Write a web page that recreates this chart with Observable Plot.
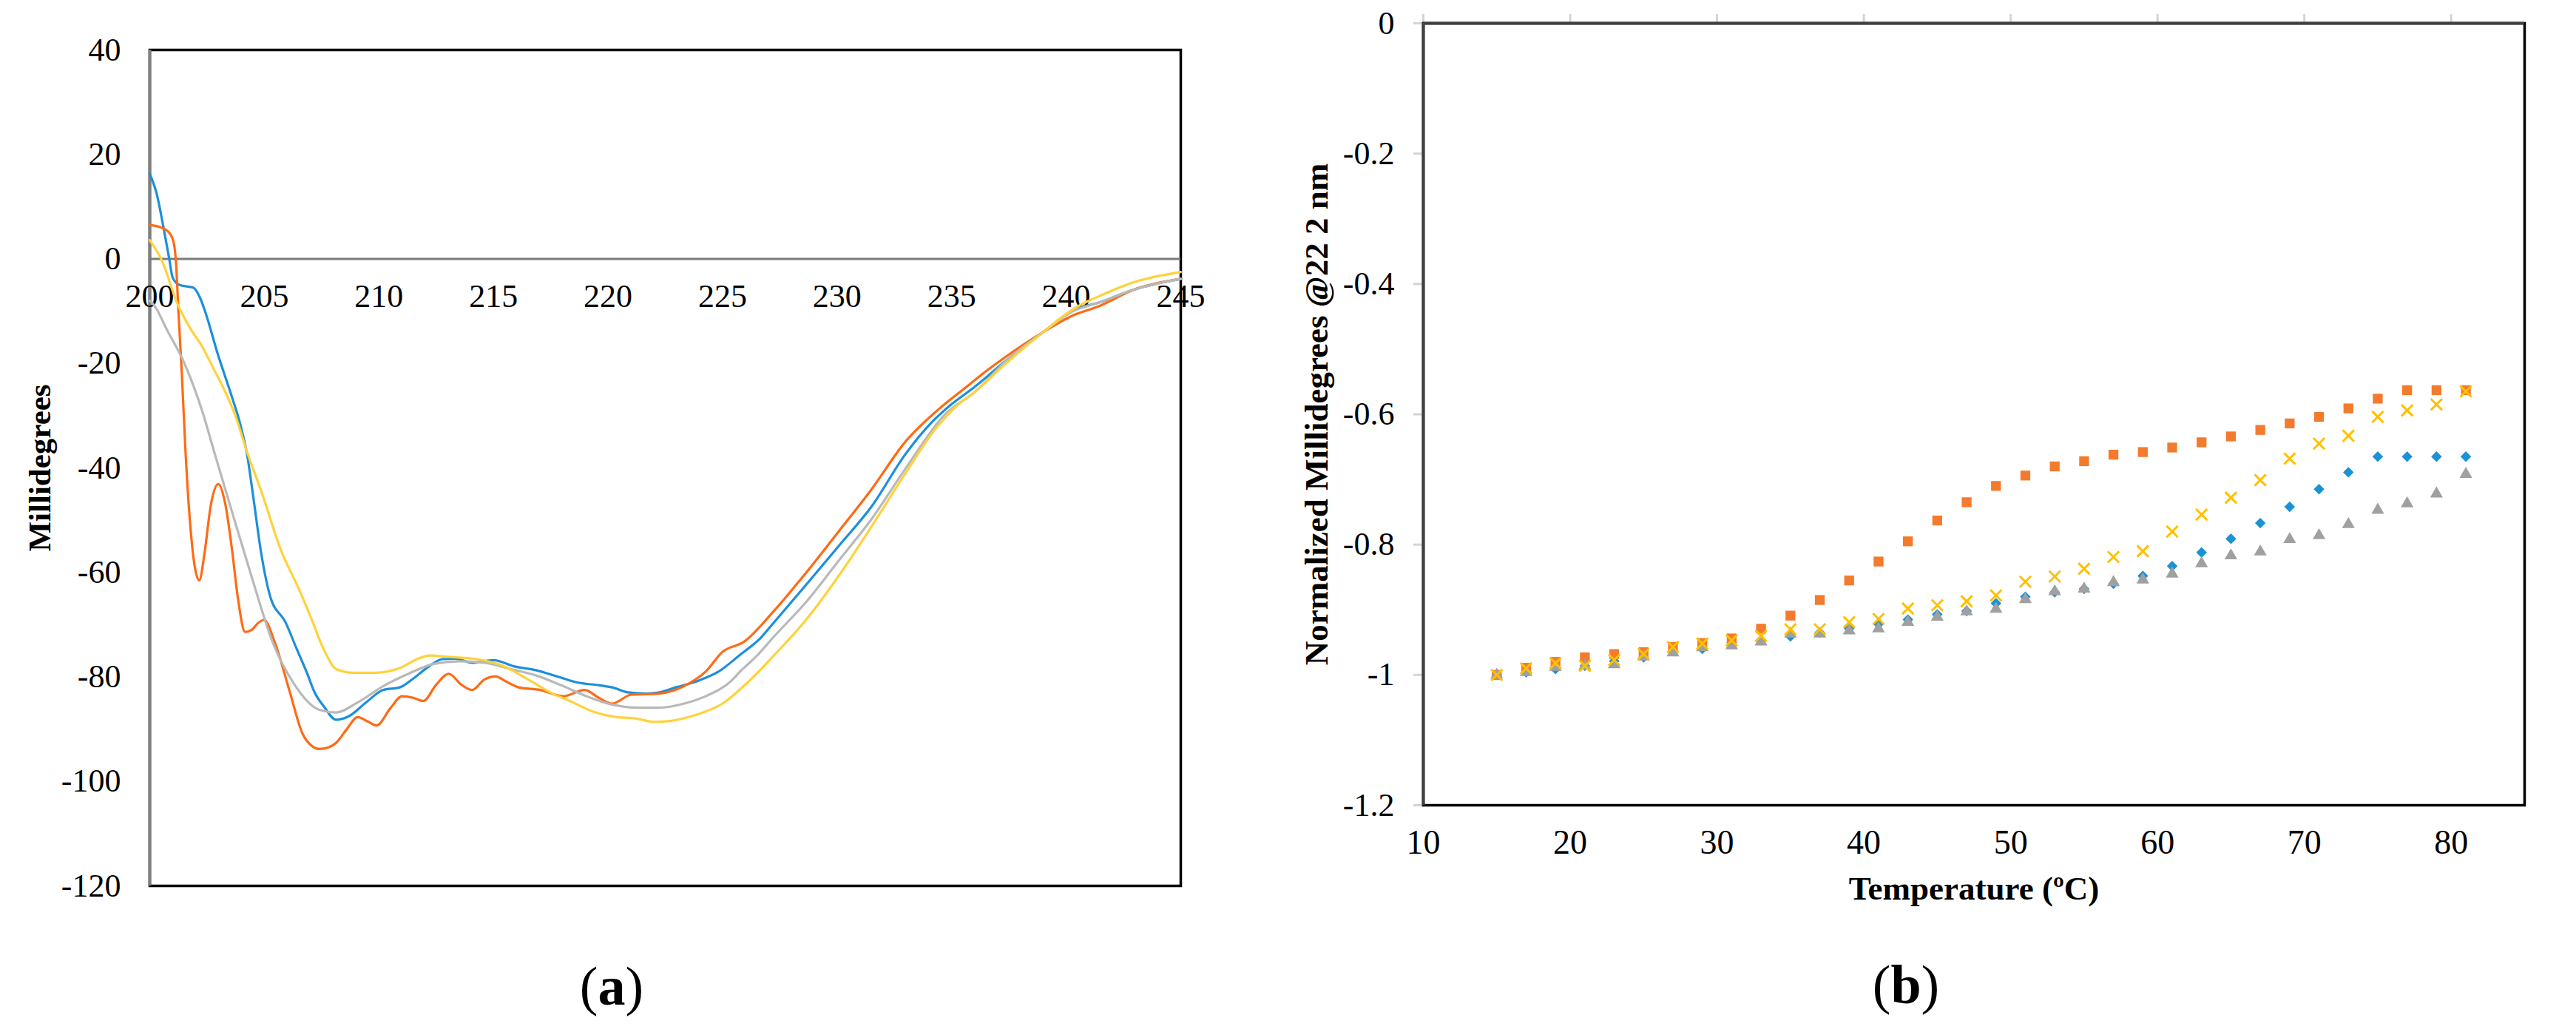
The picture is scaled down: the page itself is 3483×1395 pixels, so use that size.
<!DOCTYPE html>
<html>
<head>
<meta charset="utf-8">
<script src="https://cdn.jsdelivr.net/npm/d3@7"></script>
<script src="https://cdn.jsdelivr.net/npm/@observablehq/plot@0.6"></script>
<style>
  html, body { margin: 0; padding: 0; background: #fff; }
  body { width: 3483px; height: 1395px; position: relative; overflow: hidden; font-family: "Liberation Serif", serif; }
  #a { position: absolute; left: 0; top: 0; }
  #b { position: absolute; left: 1700px; top: 0; }
  svg text { font-family: "Liberation Serif", serif !important; }
  .cap { position: absolute; font-size: 74px; line-height: 1; transform: translate(-50%, -50%); color: #000; white-space: nowrap; font-family: "Liberation Serif", serif; }
</style>
</head>
<body>
<div id="a"></div>
<div id="b"></div>
<div class="cap" style="left:827px; top:1333px;">(<b>a</b>)</div>
<div class="cap" style="left:2577px; top:1331px;">(<b>b</b>)</div>
<script>
// ---------- Panel (a): CD spectra ----------
const xTicksA = [200, 205, 210, 215, 220, 225, 230, 235, 240, 245];
const yTicksA = [40, 20, 0, -20, -40, -60, -80, -100, -120];

const blueWl = [200.0, 200.3, 200.6, 200.85, 201.0, 201.3, 201.9, 202.2, 202.45, 202.96, 203.6, 203.94, 204.25, 204.5, 204.87, 205.27, 205.92, 206.4, 206.84, 207.2, 207.59, 208.14, 208.7, 209.44, 210.18, 210.92, 211.48, 212.03, 212.77, 213.33, 214.07, 215.0, 215.92, 216.85, 217.77, 218.7, 219.63, 220.18, 220.93, 221.67, 222.22, 222.96, 223.89, 224.82, 225.76, 226.67, 227.2, 228.64, 230.08, 231.52, 232.96, 234.12, 235.0, 236.0, 237.5, 239.0, 240.3, 241.4, 243.0, 245.0];
const blueMdeg = [16.3, 12.5, 6, 0, -3.6, -5.0, -5.5, -7.5, -10.5, -18.1, -26.6, -31.5, -37.5, -45, -56.5, -64.8, -69.5, -74.5, -79, -83, -85.6, -88.2, -87.5, -84.9, -82.5, -82.0, -80.4, -78.5, -76.6, -76.5, -77.3, -76.8, -78.0, -78.7, -79.9, -81.1, -81.6, -82.0, -83.0, -83.2, -83.0, -82.0, -80.8, -79.0, -75.8, -72.5, -69.8, -62.4, -54.9, -47.3, -37.5, -31.3, -27.8, -24.5, -19, -14, -9.8, -8.4, -5.8, -3.8];

const orangeWl = [200.0, 200.5, 200.85, 201.05, 201.15, 201.25, 201.4, 201.55, 201.75, 201.95, 202.16, 202.4, 202.65, 202.99, 203.3, 203.6, 203.85, 204.16, 204.45, 204.75, 204.99, 205.45, 206.1, 206.66, 207.1, 207.4, 207.8, 208.14, 208.6, 209.07, 209.5, 209.9, 210.5, 211.01, 211.5, 211.94, 212.5, 213.05, 213.6, 214.07, 214.6, 215.09, 215.6, 216.1, 217.03, 218.05, 218.98, 219.6, 220.18, 221.02, 222.22, 223.52, 224.26, 225.0, 225.93, 227.2, 228.64, 230.08, 231.52, 232.96, 234.4, 235.5, 236.5, 237.5, 239.0, 240.3, 241.4, 243.0, 245.0];
const orangeMdeg = [6.5, 6.0, 5.0, 3.0, -1, -10, -22, -36, -50, -58.5, -61.5, -56, -47.5, -43.1, -47, -56, -65, -71.4, -71, -69.6, -69.1, -73.3, -82.7, -90.8, -93.3, -93.8, -93.5, -92.6, -90, -87.7, -88.5, -89.3, -86, -83.7, -84, -84.6, -81.5, -79.4, -81.5, -82.5, -80.5, -79.9, -81, -82.0, -82.5, -83.7, -82.5, -84, -85.1, -83.4, -83.2, -81.3, -79.0, -75.2, -73.3, -67.6, -60.1, -52.1, -44.0, -35.1, -28.9, -25, -21.5, -18.3, -14, -10.8, -9.1, -5.8, -3.8];

const grayWl = [200.0, 200.18, 200.8, 201.41, 202.28, 202.85, 203.7, 204.43, 205.36, 206.29, 207.4, 208.14, 209.07, 210.18, 211.29, 212.4, 213.51, 214.63, 215.74, 216.85, 217.96, 219.07, 220.18, 221.3, 222.22, 223.33, 224.26, 225.37, 225.76, 226.49, 227.2, 228.64, 230.08, 231.52, 232.96, 234.7, 236.0, 237.5, 239.0, 240.3, 241.4, 243.0, 245.0];
const grayMdeg = [-8, -8.8, -14, -19, -29, -37.5, -50, -60.6, -73.3, -81.3, -86.3, -86.8, -84.9, -81.8, -79.4, -77.5, -77.0, -77.3, -78.5, -79.7, -81.6, -83.7, -85.3, -85.9, -85.9, -85.1, -83.7, -80.8, -79, -76, -72.5, -65.7, -57.7, -49.7, -40.3, -29.8, -25.5, -19, -14, -10, -8.4, -5.8, -3.8];

const yellowWl = [200.0, 200.55, 201.17, 201.78, 202.28, 202.77, 203.27, 203.76, 204.25, 204.87, 205.73, 206.48, 207.03, 207.59, 208.14, 208.88, 209.81, 210.92, 211.66, 212.22, 213.14, 214.26, 215.37, 216.48, 217.59, 218.33, 219.45, 220.37, 221.11, 222.04, 222.78, 223.89, 225.0, 226.11, 227.2, 228.64, 230.08, 231.52, 232.96, 234.3, 235.13, 236.0, 237.5, 239.0, 240.3, 241.4, 243.0, 245.0];
const yellowMdeg = [3.6, -0.5, -8.2, -13.4, -16.7, -20.9, -25.2, -30.3, -37.0, -44.5, -55.8, -62.9, -68.6, -74.7, -78.5, -79.2, -79.2, -78.3, -76.6, -75.9, -76.2, -76.6, -77.8, -80.4, -83.2, -84.6, -86.8, -87.7, -87.9, -88.6, -88.4, -87.2, -85.1, -81.0, -76.1, -69.1, -60.6, -51.1, -41.2, -32.5, -28.5, -25.5, -19.5, -14, -9.6, -7.2, -4.4, -2.5];

// ---------- Panel (b): thermal melt ----------
const xTicksB = [10, 20, 30, 40, 50, 60, 70, 80];
const yTicksB = [0, -0.2, -0.4, -0.6, -0.8, -1, -1.2];
const temps = [15, 17, 19, 21, 23, 25, 27, 29, 31, 33, 35, 37, 39, 41, 43, 45, 47, 49, 51, 53, 55, 57, 59, 61, 63, 65, 67, 69, 71, 73, 75, 77, 79, 81];
const blueNorm = [-1.000, -0.996, -0.991, -0.986, -0.979, -0.973, -0.963, -0.960, -0.950, -0.947, -0.941, -0.935, -0.929, -0.922, -0.915, -0.907, -0.902, -0.890, -0.880, -0.873, -0.868, -0.860, -0.848, -0.833, -0.812, -0.791, -0.767, -0.742, -0.715, -0.689, -0.665, -0.665, -0.665, -0.665];
const orangeNorm = [-1.000, -0.989, -0.980, -0.973, -0.968, -0.965, -0.957, -0.951, -0.944, -0.929, -0.909, -0.885, -0.855, -0.826, -0.795, -0.763, -0.735, -0.710, -0.694, -0.680, -0.672, -0.662, -0.658, -0.651, -0.643, -0.634, -0.624, -0.614, -0.604, -0.591, -0.576, -0.563, -0.563, -0.563];
const grayNorm = [-1.000, -0.996, -0.988, -0.986, -0.984, -0.972, -0.966, -0.958, -0.955, -0.949, -0.937, -0.937, -0.932, -0.929, -0.919, -0.911, -0.903, -0.899, -0.884, -0.872, -0.868, -0.858, -0.854, -0.845, -0.829, -0.817, -0.811, -0.792, -0.786, -0.769, -0.747, -0.737, -0.722, -0.692];
const yellowNorm = [-1.000, -0.990, -0.982, -0.986, -0.977, -0.968, -0.957, -0.952, -0.947, -0.940, -0.930, -0.930, -0.919, -0.914, -0.898, -0.893, -0.887, -0.878, -0.857, -0.849, -0.837, -0.819, -0.810, -0.780, -0.754, -0.728, -0.701, -0.668, -0.645, -0.633, -0.604, -0.594, -0.585, -0.565];

const FONT = "'Liberation Serif', 'Times New Roman', serif";

const chartA = Plot.plot({
  width: 1700, height: 1270,
  marginLeft: 202, marginRight: 104, marginTop: 67, marginBottom: 73,
  x: {domain: [200, 245], axis: null},
  y: {domain: [-120, 40], axis: null},
  style: {fontFamily: FONT, background: "white", overflow: "visible", color: "#000"},
  marks: [
    Plot.frame({stroke: "#000", strokeWidth: 3.5}),
    Plot.ruleX([200], {stroke: "#808080", strokeWidth: 4}),
    Plot.ruleY([0], {stroke: "#7a7a7a", strokeWidth: 3}),
    Plot.axisY(yTicksA, {anchor: "left", tickSize: 0, tickPadding: 39, tickFormat: d => String(d), fontSize: 44, fontFamily: FONT}),
    Plot.text(xTicksA, {x: d => d, y: 0, dy: 51, text: d => String(d), fontSize: 44, fontFamily: FONT, fill: "#000"}),
    Plot.text(["Millidegrees"], {frameAnchor: "left", dx: -148, rotate: -90, text: d => d, textAnchor: "middle", lineAnchor: "middle", fontSize: 43, fontWeight: "bold", fontFamily: FONT, fill: "#000"}),
    Plot.line(blueMdeg, {x: blueWl, y: d => d, stroke: "#1C8FDA", strokeWidth: 3.2, curve: "monotone-x"}),
    Plot.line(orangeMdeg, {x: orangeWl, y: d => d, stroke: "#FF6A14", strokeWidth: 3.2, curve: "monotone-x"}),
    Plot.line(grayMdeg, {x: grayWl, y: d => d, stroke: "#B9B9B9", strokeWidth: 3.2, curve: "monotone-x"}),
    Plot.line(yellowMdeg, {x: yellowWl, y: d => d, stroke: "#FFD23C", strokeWidth: 3.2, curve: "monotone-x"})
  ]
});
document.getElementById("a").append(chartA);

const chartB = Plot.plot({
  width: 1783, height: 1270,
  marginLeft: 224, marginRight: 70, marginTop: 31, marginBottom: 182,
  x: {domain: [10, 85]},
  y: {domain: [-1.2, 0]},
  style: {fontFamily: FONT, background: "white", overflow: "visible", color: "#000"},
  marks: [
    Plot.axisY(yTicksB, {anchor: "left", tickSize: 13, stroke: "#D4D4D4", strokeWidth: 3, tickFormat: () => ""}),
    Plot.axisX(xTicksB, {anchor: "top", tickSize: 13, stroke: "#D4D4D4", strokeWidth: 3, tickFormat: () => ""}),
    Plot.axisY(yTicksB, {anchor: "left", tickSize: 0, tickPadding: 39, tickFormat: d => String(d), fontSize: 44, fontFamily: FONT}),
    Plot.axisX(xTicksB, {anchor: "bottom", tickSize: 0, tickPadding: 33, tickFormat: d => String(d), fontSize: 46, fontFamily: FONT}),
    Plot.frame({stroke: "#000", strokeWidth: 3.5}),
    Plot.ruleX([10], {stroke: "#404040", strokeWidth: 4}),
    Plot.ruleY([0], {stroke: "#404040", strokeWidth: 4}),
    Plot.text(["Temperature (ºC)"], {frameAnchor: "bottom", dy: 113, text: d => d, textAnchor: "middle", lineAnchor: "middle", fontSize: 45, fontWeight: "bold", fontFamily: FONT, fill: "#000"}),
    Plot.text(["Normalized Millidegrees @22 2 nm"], {frameAnchor: "left", dx: -144, rotate: -90, text: d => d, textAnchor: "middle", lineAnchor: "middle", fontSize: 45, fontWeight: "bold", fontFamily: FONT, fill: "#000"}),
    Plot.dot(blueNorm, {x: temps, y: d => d, symbol: "diamond2", fill: "#1B92D6", stroke: "none", r: 6.5}),
    Plot.dot(orangeNorm, {x: temps, y: d => d, symbol: "square", fill: "#F47A2E", stroke: "none", r: 7.5}),
    Plot.dot(grayNorm, {x: temps, y: d => d, symbol: "triangle", fill: "#A0A0A0", stroke: "none", r: 6.4}),
    Plot.dot(yellowNorm, {x: temps, y: d => d, symbol: "times", fill: "none", stroke: "#FFC000", strokeWidth: 3, r: 7})
  ]
});
document.getElementById("b").append(chartB);
</script>
</body>
</html>
